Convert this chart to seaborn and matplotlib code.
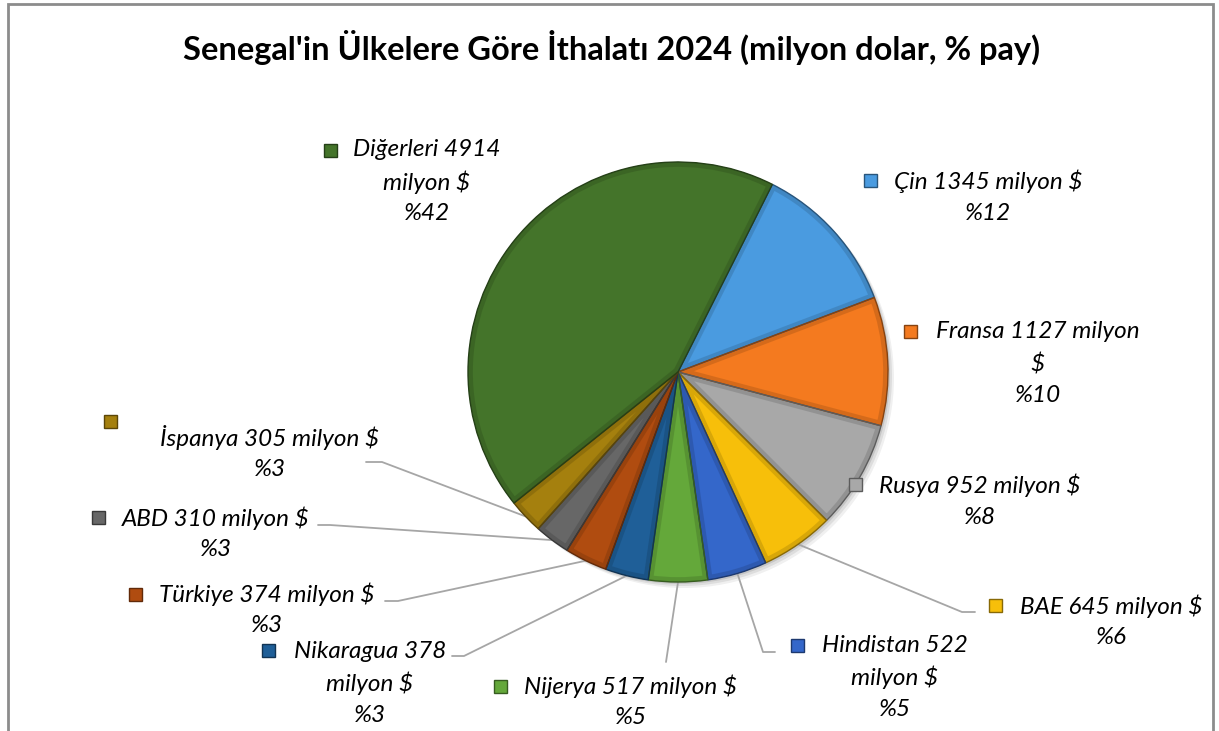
import numpy as np
import pandas as pd
import seaborn as sns
import matplotlib.pyplot as plt
import matplotlib.colors as mcolors
from matplotlib.patches import Rectangle, Wedge, Circle

# --- VERİLER ---
ulkeler = ["Çin", "Fransa", "Rusya", "BAE", "Hindistan", "Nijerya",
           "Nikaragua", "Türkiye", "ABD", "İspanya", "Diğerleri"]
degerler = [1345, 1127, 952, 645, 522, 517, 378, 374, 310, 305, 4914]
yuzdeler = [12, 10, 8, 6, 5, 5, 3, 3, 3, 3, 42]
renkler = ["#4A9BE0", "#F47A1F", "#A8A8A8", "#F7BF0A", "#3467CA", "#64A83A",
           "#1F5F98", "#B04C10", "#676767", "#A5800E", "#44742A"]
# etiketin ilk satırındaki kelime sayısı (0 = kırılma yok)
kirilma = [0, 3, 0, 0, 2, 0, 2, 0, 0, 0, 2]

df = pd.DataFrame({"ulke": ulkeler, "deger": degerler, "yuzde": yuzdeler, "renk": renkler})

# --- YERLEŞİM (piksel) ---
W, H = 1219, 731
merkez = (678, 372)
yaricap = 210
# etiket: metin orta x, ilk satır y, kutu x, kutu y
etiket_yeri = [
    (988, 181, 870, 180),
    (1038, 332, 910, 331),
    (980, 485, 855, 484),
    (1111, 606, 995, 605),
    (895, 645, 797, 645),
    (631, 686, 500, 686),
    (370, 651, 268, 650),
    (267, 594, 135, 594),
    (216, 518, 98, 517),
    (270, 438, 110, 421),
    (427, 150, 330, 150),
]
# kılavuz çizgisi: başlangıç x, y, kırılma x
kilavuz = [None, None, None,
           (975, 612, 962),
           (775, 652, 763),
           (666, 662, 666),
           (452, 656, 464),
           (385, 601, 398),
           (318, 525, 330),
           (366, 462, 382),
           None]

def Y(py):
    return H - py

def koyu(c, f=0.7):
    r, g, b = mcolors.to_rgb(c)
    return (r * f, g * f, b * f)

sns.set_theme(style="white")
plt.rcParams['font.family'] = ['Lato', 'DejaVu Sans']

fig = plt.figure(figsize=(W / 100, H / 100), dpi=100)
ax = fig.add_axes([0, 0, 1, 1])

# hafif gölge
for d, a in [(6, 0.06), (4, 0.08), (2, 0.1)]:
    ax.add_patch(Circle((merkez[0] + d, Y(merkez[1]) - d), yaricap, facecolor='black',
                        alpha=a, linewidth=0, zorder=0.5))

wedges, _ = ax.pie(df["deger"], colors=df["renk"], startangle=63.3, counterclock=False,
                   center=(merkez[0], Y(merkez[1])), radius=yaricap,
                   wedgeprops=dict(linewidth=0))
ax.set_xlim(0, W)
ax.set_ylim(0, H)
ax.set_aspect('equal')
ax.axis('off')

# kabartma efekti
for w, c in zip(wedges, df["renk"]):
    bant = Wedge(w.center, w.r, w.theta1, w.theta2, facecolor='none',
                 edgecolor=koyu(c, 0.82), linewidth=7, alpha=0.7, zorder=2)
    ax.add_patch(bant)
    bant.set_clip_path(w)
    ax.add_patch(Wedge(w.center, w.r, w.theta1, w.theta2, facecolor='none',
                       edgecolor=koyu(c, 0.55), linewidth=1.0, zorder=3))

# kılavuz çizgileri
for w, k in zip(wedges, kilavuz):
    if k is None:
        continue
    orta = np.deg2rad((w.theta1 + w.theta2) / 2)
    ux = w.center[0] + w.r * np.cos(orta)
    uy = w.center[1] + w.r * np.sin(orta)
    ax.plot([k[0], k[2], ux], [Y(k[1]), Y(k[1]), uy], color="#A6A6A6", lw=1.3, zorder=1)

# etiketler
for i, row in df.iterrows():
    kelimeler = f"{row['ulke']} {row['deger']} milyon $".split()
    k = kirilma[i]
    satirlar = [" ".join(kelimeler[:k]), " ".join(kelimeler[k:])] if k else [" ".join(kelimeler)]
    satirlar.append(f"%{row['yuzde']}")
    tx, ty, mx, my = etiket_yeri[i]
    for j, s in enumerate(satirlar):
        ax.text(tx, Y(ty + j * 32), s, ha='center', va='center', fontsize=17.5,
                style='italic', color='black', zorder=5)
    ax.add_patch(Rectangle((mx - 6.5, Y(my) - 6.5), 13, 13, facecolor=row['renk'],
                           edgecolor=koyu(row['renk'], 0.55), linewidth=1, zorder=5))

ax.text(612, Y(47), "Senegal'in Ülkelere Göre İthalatı 2024 (milyon dolar, % pay)",
        ha='center', va='center', fontsize=23.5, fontweight='bold', color='black')

# grafik alanı çerçevesi
ax.add_patch(Rectangle((8, -10), 1205, Y(4) + 10, facecolor='none',
                       edgecolor="#8C8C8C", linewidth=2, zorder=0))

plt.savefig("out.png", dpi=100)
